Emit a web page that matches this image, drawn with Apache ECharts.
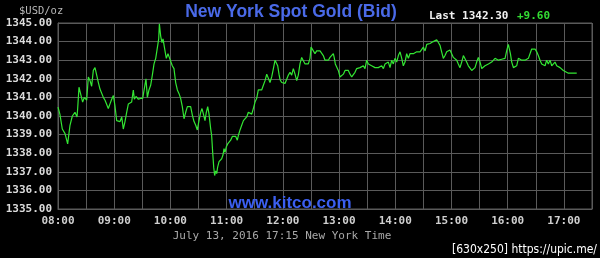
<!DOCTYPE html>
<html><head><meta charset="utf-8">
<script src="https://cdn.jsdelivr.net/npm/echarts@6/dist/echarts.min.js"></script>
<style>html,body{margin:0;padding:0;background:#000;}#c{width:600px;height:258px;}</style>
</head><body><div id="c"></div>
<script>
// minutes after 08:00 New York time
const minutes = [0,2,4.6,7.5,10.3,12.8,15.3,18.1,20.3,21,22.4,24.6,26.3,28.1,30.6,32.4,34.2,35.9,37.7,39.5,41.3,43.1,44.8,46.6,48.4,50.2,51.9,53.7,55.5,57.3,59.1,60.8,62.6,64.4,66.2,68,69.7,71.5,73.3,75.1,
76.9,78.6,80.4,81.5,83.3,85.8,88.2,90.4,92.2,93.9,95.4,97.1,98.9,100.7,102.5,104.3,106,107.5,108.2,109.6,111,112.1,113.9,115.6,117.4,118.8,120.3,122,123.8,125.6,127.4,129.2,130.9,132.7,134.5,136.3,138.1,139.8,141.6,143.4,145.2,147,148.7,150.5,152.3,153.7,155.5,
156.9,158.3,159.8,161.2,163,164,165.1,166.2,167.2,168.3,169.4,170.4,171.9,173.3,174.7,176.1,177.2,178.3,179.7,181.1,182.5,184.3,186.1,187.9,189.7,191.4,192.5,194.3,196.1,197.9,199.6,201.4,203.2,205,206.8,208.5,210.3,212.1,213.8,215.6,217.4,219.2,221,222.8,224.5,226.3,228.1,229.9,231.7,233.1,234.5,235.9,
237,238.8,240.5,242.3,244.1,245.9,247.7,249.4,251.2,253,254.8,256.5,258.3,260.1,261.9,263.7,265.4,267.2,269,270.1,271.5,272.6,274.3,276.1,277.9,279.7,281.5,283.2,285,286.8,288.6,290.3,292.1,293.9,295,296,297.5,299.2,301,302.8,304.6,306.4,308.1,309.9,311.7,313.5,315.3,
317,318.8,320.6,322.4,324.1,325.9,327.7,329.5,331.3,333,334.8,336.6,338.4,340.2,341.9,343.7,345.5,347.3,349.1,350.8,352.6,354.4,356.2,357.9,359.7,361.5,363.3,365.1,366.9,368.6,370.4,372.2,374,375.7,377.5,379.3,381.1,382.9,384.6,386.4,388.2,390,391.8,393.6,395.3,
397.1,398.9,400.6,402.4,404.2,406,407.8,409.5,411.3,413.1,414.9,416.7,418.4,420.2,422,423.8,425.6,427.3,429.1,430.9,432.7,434.5,436.2,438,439.8,441.6,443.4,445.1,446.9,448.7,450.5,452.3,454,455.8,457.6,459.4,461.2,462.9,464.7,466.5,468.3,470.1,471.8,473.6,475.4,
477.2,478.9,480.7,481.8,482.9,484.3,486.1,487.8,489.6,491.4,493.2,495,496.7,498.5,500.3,502.1,503.8,505.6,507.4,509.2,511,512.7,514.5,516.3,518.1,519.9,521.6,523.4,525.2,527,528.8,530.5,532.3,534.1,535.9,537.6,539.4,541.2,544.8,548.3,553.7];
const prices = [1340.48,1340.1,1339.3,1339.05,1338.5,1339.5,1340.0,1340.2,1339.95,1340.4,1341.55,1341.1,1340.75,1341.0,1340.85,1342.1,1341.9,1341.6,1342.45,1342.6,1342.55,1341.8,1341.45,1341.4,1341.0,1340.85,1340.9,1340.4,1340.65,1340.9,1341.1,1340.55,1339.75,1339.8,1339.7,1339.95,1339.3,1339.7,1340.2,1340.65,
1340.6,1340.75,1341.4,1340.9,1341.05,1340.9,1340.95,1340.95,1340.85,1342.0,1341.0,1341.4,1341.65,1342.2,1342.8,1343.1,1343.15,1344.15,1344.95,1344.3,1343.95,1344.15,1343.6,1343.1,1343.35,1343.15,1343.25,1342.7,1342.55,1341.8,1341.4,1341.2,1340.95,1340.5,1339.85,1340.2,1340.5,1340.4,1340.5,1340.05,1339.7,1339.5,1339.25,1339.75,1340.2,1340.4,1340.05,
1339.75,1340.2,1340.5,1340.1,1339.3,1338.95,1338.05,1337.25,1336.8,1337.05,1336.9,1337.25,1337.55,1337.6,1337.7,1337.9,1338.25,1338.05,1338.35,1338.5,1338.6,1338.7,1338.9,1338.9,1338.9,1338.7,1338.95,1339.25,1339.5,1339.75,1339.7,1339.95,1340.2,1340.2,1340.1,1340.4,1340.75,1340.95,1341.4,1341.45,1341.4,1341.65,1341.9,1342.25,1342.15,1341.8,1342.1,1342.55,1343.0,1343.05,1342.7,1342.25,
1341.95,1341.8,1341.75,1341.75,1341.8,1342.2,1342.35,1342.2,1342.55,1342.25,1341.9,1342.2,1342.8,1343.15,1343.1,1342.8,1342.9,1342.8,1343.1,1343.7,1343.8,1343.5,1343.35,1343.5,1343.45,1343.5,1343.55,1343.25,1343.0,1342.9,1343.0,1343.15,1343.25,1343.35,1343.1,1342.8,1342.8,1342.45,1342.1,1342.0,1342.25,1342.45,1342.35,1342.45,1342.25,1342.1,1342.15,
1342.35,1342.55,1342.45,1342.6,1342.55,1342.7,1342.55,1343.0,1342.8,1342.9,1342.7,1342.7,1342.6,1342.55,1342.6,1342.55,1342.7,1342.55,1342.8,1342.7,1342.9,1342.6,1343.0,1342.8,1343.1,1342.9,1343.25,1343.45,1343.1,1342.7,1342.9,1343.35,1343.1,1343.35,1343.45,1343.35,1343.45,1343.45,1343.5,1343.45,1343.5,1343.7,1343.5,1343.85,1343.8,
1343.9,1343.9,1344.0,1343.95,1344.1,1343.95,1343.8,1343.45,1343.1,1343.25,1343.45,1343.5,1343.55,1343.45,1343.15,1343.1,1343.0,1342.8,1342.6,1342.9,1343.25,1343.15,1342.9,1342.7,1342.6,1342.45,1342.55,1342.6,1342.9,1343.15,1342.9,1342.55,1342.6,1342.7,1342.7,1342.8,1342.9,1342.9,1343.0,1343.1,1343.1,1343.0,1343.1,1343.05,1343.0,
1343.1,1343.5,1343.85,1343.8,1343.35,1342.9,1342.6,1342.6,1342.7,1343.1,1343.15,1343.0,1343.1,1343.0,1343.05,1343.1,1343.15,1343.6,1343.5,1343.6,1343.45,1343.25,1343.0,1342.8,1342.9,1342.7,1343.0,1342.8,1343.0,1342.7,1342.8,1342.9,1342.7,1342.6,1342.6,1342.55,1342.45,1342.35,1342.3,1342.3,1342.3];
const timeLabels = ['08:00','09:00','10:00','11:00','12:00','13:00','14:00','15:00','16:00','17:00'];
const priceMin = 1335, priceMax = 1345;
const titleText = 'New York Spot Gold (Bid)';
const unitText = '$USD/oz';
const lastText = 'Last 1342.30';
const changeText = '+9.60';
const siteText = 'www.kitco.com';
const dateText = 'July 13, 2016 17:15 New York Time';
const watermarkText = '[630x250] https://upic.me/';

const data = minutes.map((m, i) => [m, prices[i]]);
const mono = "'DejaVu Sans Mono', monospace";
const gridColor = '#5a5a5a';

const chart = echarts.init(document.getElementById('c'), null, {renderer: 'canvas'});
chart.setOption({
  backgroundColor: '#000',
  animation: false,
  grid: {left: 58, right: 8, top: 23, bottom: 49},
  xAxis: {
    type: 'value', min: 0, max: 570, interval: 30,
    axisLine: {show: true, lineStyle: {color: gridColor}},
    axisTick: {show: false},
    splitLine: {show: true, lineStyle: {color: gridColor, width: 1}},
    axisLabel: {
      color: '#cfcfcf', fontFamily: mono, fontSize: 11, fontWeight: 'bold', margin: 7,
      showMinLabel: true, showMaxLabel: true,
      formatter: v => (v % 60 === 0 && timeLabels[v / 60]) ? timeLabels[v / 60] : ''
    }
  },
  yAxis: {
    type: 'value', min: priceMin, max: priceMax, interval: 1,
    axisLine: {show: true, lineStyle: {color: gridColor}},
    axisTick: {show: false},
    splitLine: {show: true, lineStyle: {color: gridColor, width: 1}},
    axisLabel: {
      color: '#dcdcdc', fontFamily: mono, fontSize: 11, fontWeight: 'bold', margin: 6,
      showMinLabel: true, showMaxLabel: true,
      formatter: v => v.toFixed(2)
    }
  },
  graphic: [
    {type: 'rect', shape: {x: 58, y: 23, width: 534, height: 186}, style: {fill: 'none', stroke: gridColor, lineWidth: 1}, z: 1, silent: true},
    {type: 'text', x: 291, y: 12, style: {text: titleText, fill: '#4a6ae8', font: "bold 17.5px 'Liberation Sans', Arial, sans-serif", textAlign: 'center', textVerticalAlign: 'middle'}},
    {type: 'text', x: 19, y: 11, style: {text: unitText, fill: '#b8b8b8', font: "10.5px " + mono, textAlign: 'left', textVerticalAlign: 'middle'}},
    {type: 'text', x: 429, y: 16, style: {text: lastText, fill: '#f0f0f0', font: "bold 11px " + mono, textAlign: 'left', textVerticalAlign: 'middle'}},
    {type: 'text', x: 517, y: 16, style: {text: changeText, fill: '#33dd33', font: "bold 11px " + mono, textAlign: 'left', textVerticalAlign: 'middle'}},
    {type: 'text', x: 290, y: 203, z: 10, style: {text: siteText, fill: '#3b5ff0', font: "bold 17px 'Liberation Sans', Arial, sans-serif", textAlign: 'center', textVerticalAlign: 'middle'}},
    {type: 'text', x: 282, y: 236, style: {text: dateText, fill: '#a8a8a8', font: "11px " + mono, textAlign: 'center', textVerticalAlign: 'middle'}},
    {type: 'text', x: 597, y: 250, style: {text: watermarkText, fill: '#ffffff', font: "12px 'Liberation Sans Narrow', 'DejaVu Sans Condensed', sans-serif", textAlign: 'right', textVerticalAlign: 'middle'}}
  ],
  series: [{
    type: 'line', data: data, showSymbol: false, symbol: 'none',
    lineStyle: {color: '#33e633', width: 1.2},
    z: 5
  }]
});
</script></body></html>
